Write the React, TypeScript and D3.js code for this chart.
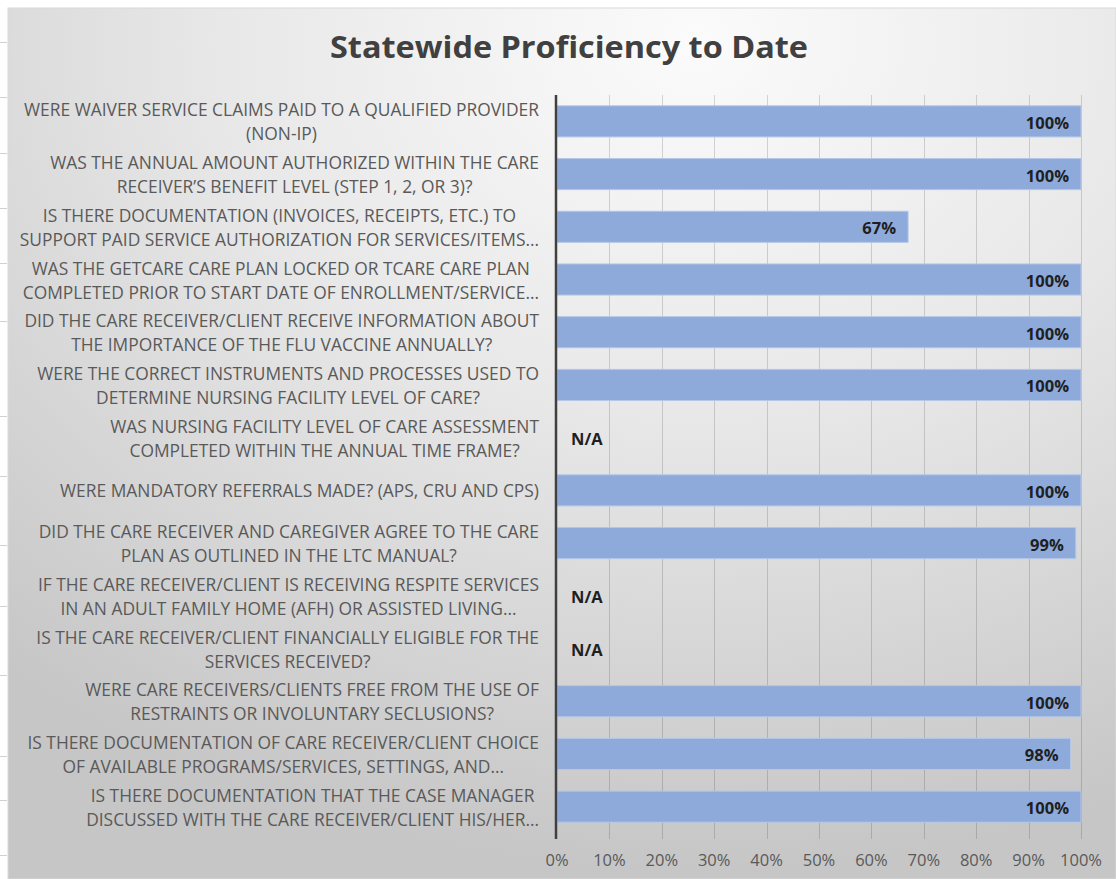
import { useEffect, useRef } from "react";
import * as d3 from "d3";

const title = "Statewide Proficiency to Date";

// each question is split into the two lines the chart shows
const questions: string[][] = [
  ["WERE WAIVER SERVICE CLAIMS PAID TO A QUALIFIED PROVIDER", "(NON-IP)"],
  ["WAS THE ANNUAL AMOUNT AUTHORIZED WITHIN THE CARE", "RECEIVER\u2019S BENEFIT LEVEL (STEP 1, 2, OR 3)?"],
  ["IS THERE DOCUMENTATION (INVOICES, RECEIPTS, ETC.) TO", "SUPPORT PAID SERVICE AUTHORIZATION FOR SERVICES/ITEMS\u2026"],
  ["WAS THE GETCARE CARE PLAN LOCKED OR TCARE CARE PLAN", "COMPLETED PRIOR TO START DATE OF ENROLLMENT/SERVICE\u2026"],
  ["DID THE CARE RECEIVER/CLIENT RECEIVE INFORMATION ABOUT", "THE IMPORTANCE OF THE FLU VACCINE ANNUALLY?"],
  ["WERE THE CORRECT INSTRUMENTS AND PROCESSES USED TO", "DETERMINE NURSING FACILITY LEVEL OF CARE?"],
  ["WAS NURSING FACILITY LEVEL OF CARE ASSESSMENT", "COMPLETED WITHIN THE ANNUAL TIME FRAME?"],
  ["WERE MANDATORY REFERRALS MADE? (APS, CRU AND CPS)"],
  ["DID THE CARE RECEIVER AND CAREGIVER AGREE TO THE CARE", "PLAN AS OUTLINED IN THE LTC MANUAL?"],
  ["IF THE CARE RECEIVER/CLIENT IS RECEIVING RESPITE SERVICES", "IN AN ADULT FAMILY HOME (AFH) OR ASSISTED LIVING\u2026"],
  ["IS THE CARE RECEIVER/CLIENT FINANCIALLY ELIGIBLE FOR THE", "SERVICES RECEIVED?"],
  ["WERE CARE RECEIVERS/CLIENTS FREE FROM THE USE OF", "RESTRAINTS OR INVOLUNTARY SECLUSIONS?"],
  ["IS THERE DOCUMENTATION OF CARE RECEIVER/CLIENT CHOICE", "OF AVAILABLE PROGRAMS/SERVICES, SETTINGS, AND\u2026"],
  ["IS THERE DOCUMENTATION THAT THE CASE MANAGER", "DISCUSSED WITH THE CARE RECEIVER/CLIENT HIS/HER\u2026"],
];

// null = N/A
const proficiency: (number | null)[] = [100, 100, 67, 100, 100, 100, null, 100, 99, null, null, 100, 98, 100];

const xTicks = [0, 10, 20, 30, 40, 50, 60, 70, 80, 90, 100];

// little spreadsheet row marks peeking out on the left edge
const sheetRows = [42, 97, 153, 208, 263, 321, 416, 476, 545, 606, 675, 756, 800, 855];

const W = 1116;
const H = 879;
const labelFont = "'Open Sans', 'DejaVu Sans', sans-serif";

export default function App() {
  const ref = useRef<SVGSVGElement>(null);

  useEffect(() => {
    if (!ref.current) return;
    const svg = d3.select(ref.current);
    svg.selectAll("*").remove();

    const defs = svg.append("defs");
    const grad = defs
      .append("radialGradient")
      .attr("id", "bg")
      .attr("cx", 0.62)
      .attr("cy", 0.04)
      .attr("r", 0.95);
    grad.append("stop").attr("offset", "0%").attr("stop-color", "#fbfbfb");
    grad.append("stop").attr("offset", "45%").attr("stop-color", "#e8e8e8");
    grad.append("stop").attr("offset", "100%").attr("stop-color", "#c6c6c6");

    svg.append("rect").attr("width", W).attr("height", H).attr("fill", "#fff");
    svg
      .append("g")
      .selectAll("line")
      .data(sheetRows)
      .enter()
      .append("line")
      .attr("x1", 0)
      .attr("x2", 7)
      .attr("y1", (d) => d + 0.5)
      .attr("y2", (d) => d + 0.5)
      .attr("stroke", "#d0d0d0");
    svg
      .append("rect")
      .attr("x", 8)
      .attr("y", 8)
      .attr("width", W - 8)
      .attr("height", H - 8)
      .attr("fill", "url(#bg)")
      .attr("stroke", "#d9d9d9")
      .attr("stroke-width", 1);

    const x = d3.scaleLinear().domain([0, 100]).range([557, 1081]);
    const y = d3
      .scaleBand<number>()
      .domain(d3.range(questions.length))
      .range([95, 833])
      .paddingInner(0.41)
      .paddingOuter(0.205);

    // title
    svg
      .append("text")
      .attr("x", 569)
      .attr("y", 46)
      .attr("text-anchor", "middle")
      .attr("dominant-baseline", "central")
      .attr("font-family", labelFont)
      .attr("font-weight", 700)
      .attr("font-size", 31)
      .attr("fill", "#404040")
      .attr("textLength", 478)
      .attr("lengthAdjust", "spacingAndGlyphs")
      .text(title);

    // gridlines
    svg
      .append("g")
      .selectAll("line")
      .data(xTicks.slice(1))
      .enter()
      .append("line")
      .attr("x1", (d) => Math.round(x(d)) + 0.5)
      .attr("x2", (d) => Math.round(x(d)) + 0.5)
      .attr("y1", 95)
      .attr("y2", 839)
      .attr("stroke", "rgba(0,0,0,0.15)");

    // bars
    const rows = proficiency.map((v, i) => ({ v, i }));
    svg
      .append("g")
      .selectAll("rect")
      .data(rows.filter((r) => r.v !== null))
      .enter()
      .append("rect")
      .attr("x", x(0))
      .attr("y", (d) => y(d.i)!)
      .attr("width", (d) => x(d.v as number) - x(0))
      .attr("height", y.bandwidth())
      .attr("fill", "#8eaadb")
      .attr("stroke", "#b4c7e7")
      .attr("stroke-width", 1);

    // axis line
    svg
      .append("line")
      .attr("x1", 556)
      .attr("x2", 556)
      .attr("y1", 95)
      .attr("y2", 839)
      .attr("stroke", "#404040")
      .attr("stroke-width", 2.5);

    // value labels
    svg
      .append("g")
      .selectAll("text")
      .data(rows)
      .enter()
      .append("text")
      .attr("x", (d) => (d.v === null ? 571 : x(d.v) - 12))
      .attr("y", (d) => y(d.i)! + y.bandwidth() / 2 + 1)
      .attr("text-anchor", (d) => (d.v === null ? "start" : "end"))
      .attr("dominant-baseline", "central")
      .attr("font-family", labelFont)
      .attr("font-weight", 700)
      .attr("font-size", 16.5)
      .attr("fill", "#1f1f1f")
      .text((d) => (d.v === null ? "N/A" : `${d.v}%`));

    // x tick labels
    svg
      .append("g")
      .selectAll("text")
      .data(xTicks)
      .enter()
      .append("text")
      .attr("x", (d) => x(d))
      .attr("y", 859)
      .attr("text-anchor", "middle")
      .attr("dominant-baseline", "central")
      .attr("font-family", labelFont)
      .attr("font-size", 16.5)
      .attr("fill", "#595959")
      .text((d) => `${d}%`);

    // category labels: measure, squeeze to the narrow look of the original
    const labels = svg.append("g");
    const probe = labels
      .append("text")
      .attr("font-family", labelFont)
      .attr("font-size", 18)
      .text(questions[0][0]);
    const ratio = 515 / (probe.node() as SVGTextElement).getComputedTextLength();
    probe.remove();

    const right = 539;
    const lineGap = 24;
    questions.forEach((lines, i) => {
      const cy = y(i)! + y.bandwidth() / 2;
      const g = labels.append("g");
      const texts = lines.map((line, k) =>
        g
          .append("text")
          .attr("y", cy + (k - (lines.length - 1) / 2) * lineGap)
          .attr("text-anchor", "middle")
          .attr("dominant-baseline", "central")
          .attr("font-family", labelFont)
          .attr("font-size", 18)
          .attr("fill", "#595959")
          .text(line)
      );
      const widths = texts.map((t) => (t.node() as SVGTextElement).getComputedTextLength() * ratio);
      const blockW = d3.max(widths) ?? 0;
      texts.forEach((t, k) => {
        t.attr("x", right - blockW / 2)
          .attr("textLength", widths[k])
          .attr("lengthAdjust", "spacingAndGlyphs");
      });
    });
  }, []);

  return (
    <div style={{ position: "absolute", left: 0, top: 0 }}>
      <svg ref={ref} width={W} height={H} style={{ display: "block" }} />
    </div>
  );
}
